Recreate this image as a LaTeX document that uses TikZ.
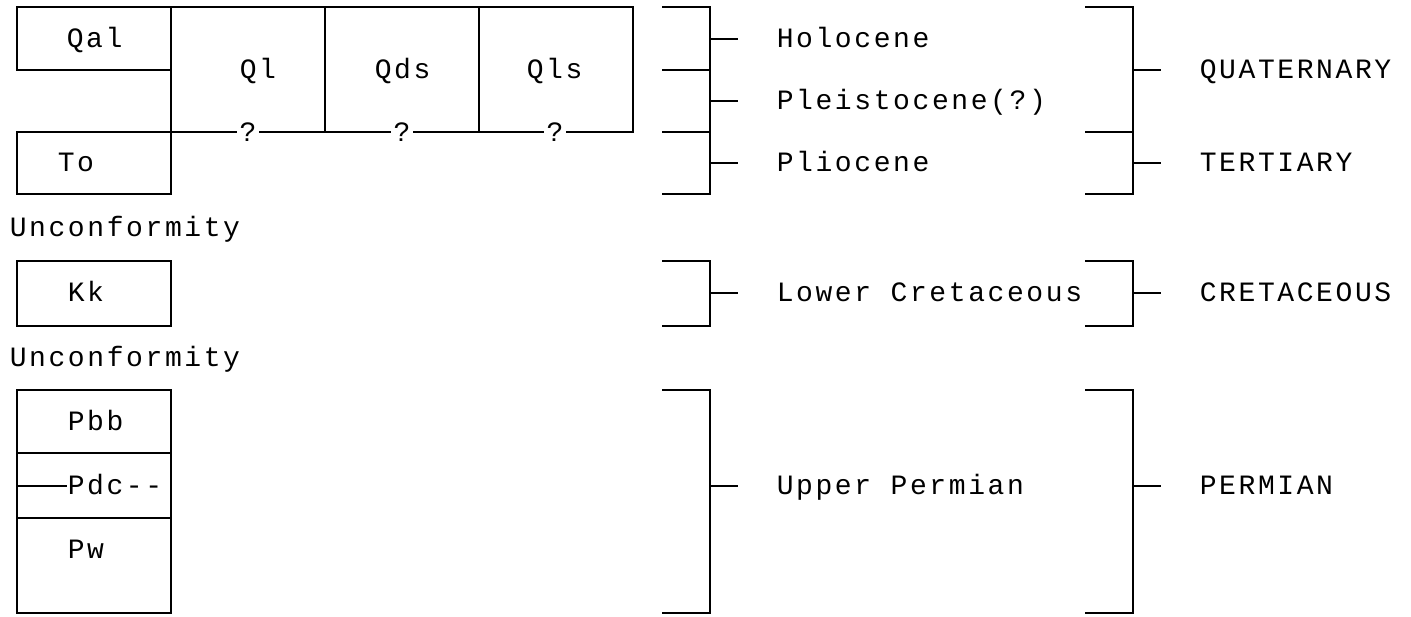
\documentclass[tikz,border=0pt]{standalone}
\usepackage{fontspec}
\setmonofont[LetterSpace=9.3]{Liberation Mono}
\usetikzlibrary{positioning}

\tikzset{
  unitlbl/.style={font=\ttfamily\fontsize{14pt}{16pt}\selectfont,anchor=mid west,inner sep=0pt,yshift=-2.25pt},
  qmark/.style={font=\ttfamily\fontsize{14pt}{16pt}\selectfont,fill=white,inner sep=1.5pt},
}

\begin{document}
\begin{tikzpicture}[x=0.5pt,y=-0.5pt,line width=0.8pt]
  \useasboundingbox (0,0) rectangle (1411,616);
  % map units
  \draw (17,7) rectangle (171,70);
  \foreach \x in {171,325,479}{\draw (\x,7) rectangle ++(154,125);}
  \draw (17,132) rectangle (171,194);
  \draw (17,261) rectangle (171,326);
  \draw (17,390) rectangle (171,613);
  \foreach \y in {453,518}{\draw (17,\y)--(171,\y);}
  \foreach \x/\n in {248/qa,402/qb,555/qc}{\node[qmark] (\n) at (\x,132) {?};}
  \node[unitlbl] (qal) at (66,39) {Qal};
  \node[unitlbl] (ql) at (239,70) {Ql};
  \node[unitlbl] (qds) at (374,70) {Qds};
  \node[unitlbl] (qls) at (526,70) {Qls};
  \node[unitlbl] (to) at (57,163) {To};
  \node[unitlbl] (kk) at (67,293) {Kk};
  \node[unitlbl] (pbb) at (67,422) {Pbb};
  \node[unitlbl] (pdc) at (67,486) {Pdc--};
  \node[unitlbl] (pw) at (67,550) {Pw};
  \coordinate (pdcl) at (17,486);
  \draw (pdcl) -- (pdcl -| pdc.west);
  \node[unitlbl] (unca) at (9,228) {Unconformity};
  \node[unitlbl] (uncb) at (9,358) {Unconformity};
  % series brackets
  \foreach \a/\b in {7/194,261/326,390/613}{\draw (662,\a) -- (710,\a) -- (710,\b) -- (662,\b);}
  \foreach \y in {70,132}{\draw (662,\y)--(710,\y);}
  \foreach \y in {39,101,163,293,486}{\draw (710,\y)--(738,\y);}
  \node[unitlbl] (holo) at (776,39) {Holocene};
  \node[unitlbl] (pleis) at (776,101) {Pleistocene(?)};
  \node[unitlbl] (plio) at (776,163) {Pliocene};
  \node[unitlbl] (lcret) at (776,293) {Lower Cretaceous};
  \node[unitlbl] (uperm) at (776,486) {Upper Permian};
  % system brackets
  \foreach \a/\b in {7/194,261/326,390/613}{\draw (1085,\a) -- (1133,\a) -- (1133,\b) -- (1085,\b);}
  \draw (1085,132)--(1133,132);
  \foreach \y in {70,163,293,486}{\draw (1133,\y)--(1161,\y);}
  \node[unitlbl] (quat) at (1199,70) {QUATERNARY};
  \node[unitlbl] (tert) at (1199,163) {TERTIARY};
  \node[unitlbl] (cret) at (1199,293) {CRETACEOUS};
  \node[unitlbl] (perm) at (1199,486) {PERMIAN};
\end{tikzpicture}
\end{document}
